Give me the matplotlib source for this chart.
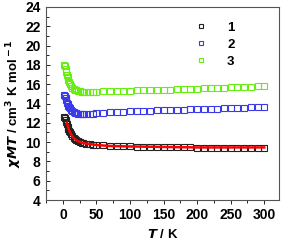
import matplotlib
matplotlib.use("Agg")
import matplotlib.pyplot as plt
from matplotlib.ticker import MultipleLocator

plt.rcParams["font.family"] = ["Liberation Sans", "DejaVu Sans"]
plt.rcParams["font.weight"] = "bold"

# Temperature points (K)
T = [2, 3, 4, 5, 6, 7, 8, 9, 10, 12, 14, 16, 18, 20, 22, 25, 28, 30, 35, 40, 45, 50,
     60, 70, 80, 90, 100, 110, 120, 130, 140, 150, 160, 170, 180, 190, 200,
     210, 220, 230, 240, 250, 260, 270, 280, 290, 300]

chi1 = [12.6, 12.5, 12.3, 12.1, 11.9, 11.6, 11.4, 11.2, 11.0, 10.8, 10.6, 10.4, 10.3, 10.2, 10.1,
        10.0, 9.95, 9.9, 9.85, 9.8, 9.75, 9.7,
        9.65, 9.6, 9.6, 9.55, 9.55, 9.5, 9.5, 9.5, 9.5, 9.45, 9.45, 9.45, 9.45, 9.45, 9.4,
        9.4, 9.4, 9.4, 9.4, 9.4, 9.4, 9.4, 9.4, 9.4, 9.4]
chi2 = [14.9, 14.8, 14.6, 14.4, 14.1, 13.9, 13.7, 13.6, 13.5, 13.3, 13.2, 13.1, 13.0, 13.0, 12.95,
        12.9, 12.9, 12.9, 12.9, 12.9, 12.95, 13.0,
        13.05, 13.1, 13.1, 13.15, 13.2, 13.2, 13.25, 13.25, 13.3, 13.3, 13.3, 13.35, 13.35, 13.4, 13.4,
        13.4, 13.45, 13.45, 13.5, 13.5, 13.55, 13.55, 13.6, 13.6, 13.6]
chi3 = [18.0, 17.9, 17.6, 17.3, 17.0, 16.7, 16.4, 16.2, 16.0, 15.8, 15.6, 15.5, 15.4, 15.35, 15.3,
        15.25, 15.2, 15.2, 15.2, 15.2, 15.2, 15.2,
        15.25, 15.25, 15.3, 15.3, 15.3, 15.35, 15.35, 15.4, 15.4, 15.45, 15.45, 15.5, 15.5, 15.55, 15.55,
        15.6, 15.6, 15.65, 15.65, 15.7, 15.7, 15.75, 15.75, 15.8, 15.8]

# fit curve for compound 1
fit_T = [6, 8, 10, 12, 15, 18, 22, 26, 30, 40, 50, 70, 100, 150, 200, 250, 300]
fit_chi = [12.0, 11.5, 11.1, 10.8, 10.5, 10.3, 10.1, 10.0, 9.9, 9.8, 9.7, 9.6, 9.55, 9.5, 9.45, 9.45, 9.45]

colors = ["#222222", "#3a3ae8", "#66ee11"]
labels = ["1", "2", "3"]

fig = plt.figure(figsize=(2.83, 2.41), dpi=100)
ax = fig.add_axes([0.163, 0.170, 0.823, 0.801])

for chi, c, lab in zip([chi1, chi2, chi3], colors, labels):
    ax.plot(T, chi, ls="none", marker="s", ms=3.8, mfc="none", mec=c, mew=0.8, label=lab)
ax.plot(fit_T, fit_chi, color="red", lw=1.8, zorder=3)

ax.set_xlim(-25, 322)
ax.set_ylim(4, 24)
ax.xaxis.set_major_locator(MultipleLocator(50))
ax.xaxis.set_minor_locator(MultipleLocator(25))
ax.yaxis.set_major_locator(MultipleLocator(2))
ax.yaxis.set_minor_locator(MultipleLocator(1))
ax.tick_params(which="both", top=False, right=False, labelsize=10, width=0.6)
ax.tick_params(axis="x", which="both", direction="out", pad=3)
ax.tick_params(axis="y", which="both", direction="in", pad=4)
ax.tick_params(which="major", length=3)
ax.tick_params(which="minor", length=1.8)
for s in ax.spines.values():
    s.set_color("#555555")
    s.set_linewidth(0.8)

ax.set_xlabel(r"$\bf{\it{T}}$ / K", fontsize=9.5, fontweight="bold", labelpad=4)
ax.set_ylabel(r"$\bf{\it{\chi M T}}$ / cm$^{\bf 3}$ K mol$^{\bf -1}$", fontsize=9.5, fontweight="bold", labelpad=1)

ax.legend(loc="upper right", frameon=False, fontsize=9.5, handletextpad=1.0, labelspacing=0.35,
          bbox_to_anchor=(0.86, 0.985), markerscale=0.75)

fig.canvas.draw()
plt.setp(ax.get_xticklabels() + ax.get_yticklabels(), fontweight="bold")

fig.savefig("out.png", dpi=100)
